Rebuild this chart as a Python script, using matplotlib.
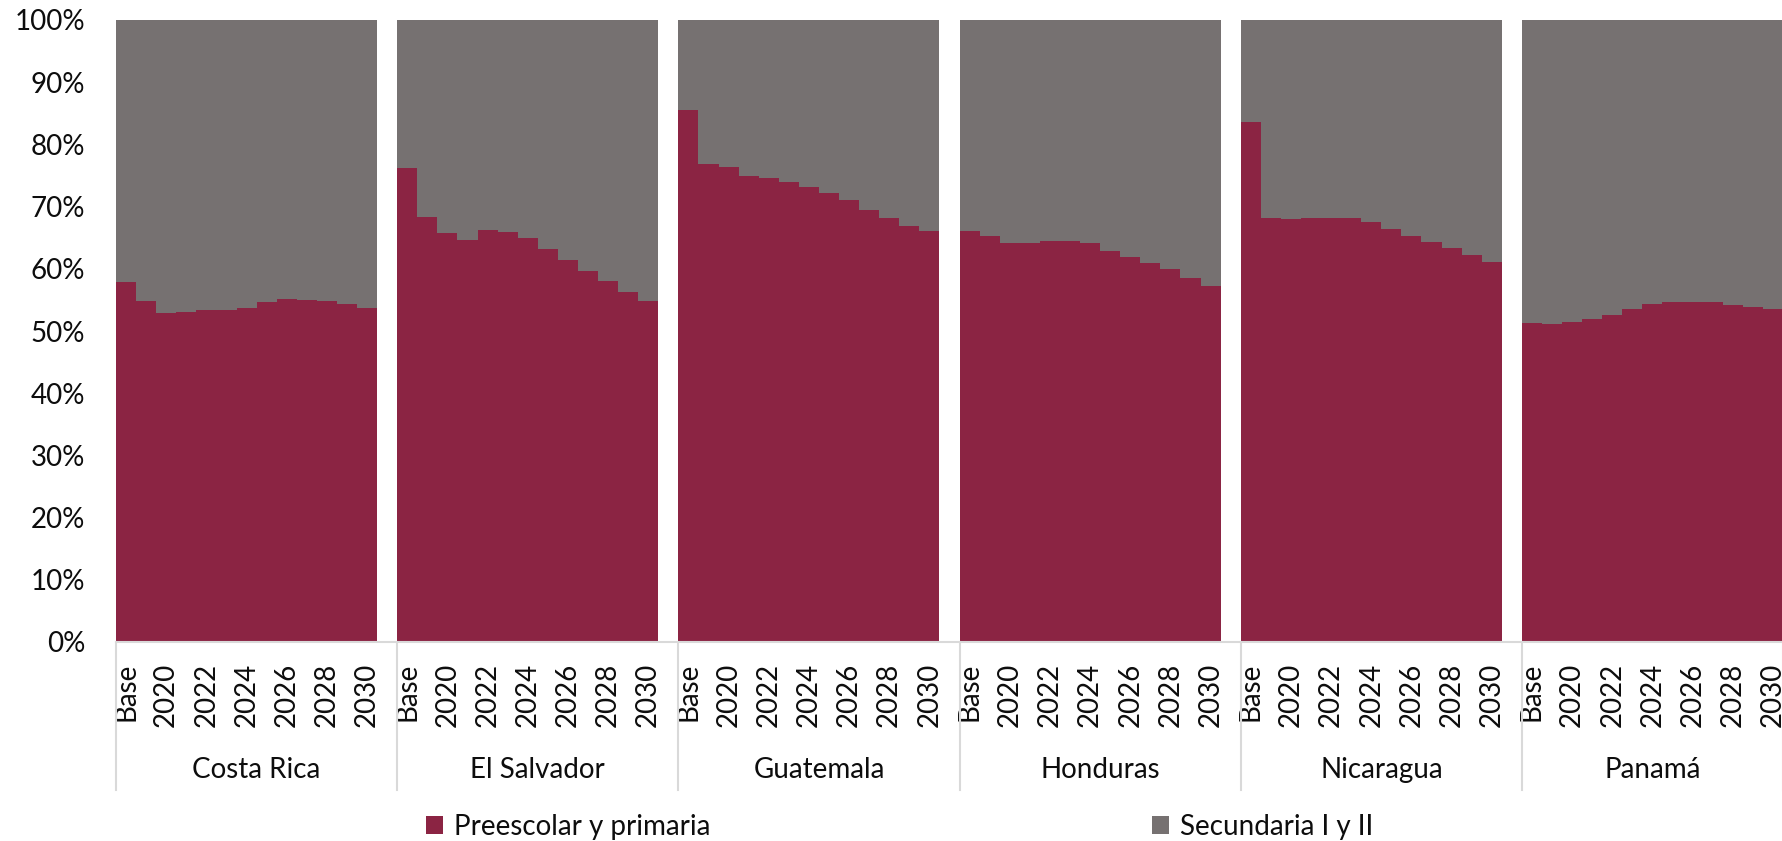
import matplotlib
matplotlib.use("Agg")
import matplotlib.pyplot as plt
from matplotlib.patches import Patch
import matplotlib.transforms as mtransforms

plt.rcParams['font.family'] = ['Lato', 'DejaVu Sans']

# ---- data ----
countries = ["Costa Rica", "El Salvador", "Guatemala", "Honduras", "Nicaragua", "Panamá"]
periods = ["Base", "2019", "2020", "2021", "2022", "2023", "2024", "2025",
           "2026", "2027", "2028", "2029", "2030"]
series_names = ["Preescolar y primaria", "Secundaria I y II"]

# share (%) of "Preescolar y primaria"; the remainder is "Secundaria I y II"
costa_rica  = [57.9, 54.9, 52.9, 53.1, 53.4, 53.4, 53.7, 54.7, 55.1, 55.0, 54.8, 54.4, 53.7]
el_salvador = [76.2, 68.3, 65.8, 64.7, 66.3, 65.9, 64.9, 63.2, 61.4, 59.7, 58.0, 56.3, 54.9]
guatemala   = [85.6, 76.8, 76.4, 75.0, 74.6, 73.9, 73.2, 72.2, 71.1, 69.5, 68.2, 66.9, 66.0]
honduras    = [66.0, 65.2, 64.1, 64.1, 64.4, 64.5, 64.2, 62.9, 61.9, 60.9, 59.9, 58.6, 57.3]
nicaragua   = [83.6, 68.1, 68.0, 68.1, 68.2, 68.2, 67.6, 66.4, 65.3, 64.3, 63.3, 62.2, 61.1]
panama      = [51.3, 51.1, 51.4, 51.9, 52.6, 53.6, 54.4, 54.7, 54.7, 54.6, 54.2, 53.9, 53.6]

primaria_by_country = [costa_rica, el_salvador, guatemala, honduras, nicaragua, panama]

RED = "#8B2443"
GRAY = "#767171"
LINE = "#D9D9D9"
TXT = "#0d0d0d"
FS = 20

W, H = 1783, 841
fig = plt.figure(figsize=(W / 100, H / 100), dpi=100)
ax = fig.add_axes([116 / W, 1 - 642 / H, (W - 116) / W, (642 - 20) / H])

n = len(periods)
step = n + 1  # one empty slot between groups
xs, reds, grays, tick_pos, tick_lab = [], [], [], [], []
for g, vals in enumerate(primaria_by_country):
    for i, v in enumerate(vals):
        x = g * step + i
        xs.append(x)
        reds.append(v)
        grays.append(100 - v)
        if i % 2 == 0:
            tick_pos.append(x)
            tick_lab.append(periods[i])

ax.bar(xs, reds, width=1.0, color=RED, linewidth=0, label=series_names[0])
ax.bar(xs, grays, bottom=reds, width=1.0, color=GRAY, linewidth=0, label=series_names[1])

last = (len(countries) - 1) * step + n - 1
ax.set_xlim(-0.5, last + 0.5)
ax.set_ylim(0, 100)

ax.set_yticks(range(0, 101, 10))
ax.set_yticklabels([f"{v}%" for v in range(0, 101, 10)])
ax.set_xticks(tick_pos)
ax.set_xticklabels(tick_lab, rotation=90)
ax.tick_params(axis='y', length=0, pad=22, labelsize=FS, labelcolor=TXT)
ax.tick_params(axis='x', length=0, pad=15, labelsize=FS, labelcolor=TXT)

for s in ["top", "right", "left"]:
    ax.spines[s].set_visible(False)
ax.spines["bottom"].set_color(LINE)
ax.spines["bottom"].set_linewidth(1.5)

# group separators and country labels
trans = mtransforms.blended_transform_factory(ax.transData, ax.transAxes)
y_low = -(790 - 642) / 622
for g in range(len(countries) + 1):
    xline = g * step - 0.5 if g < len(countries) else last + 0.5
    ax.plot([xline, xline], [0, y_low], transform=trans, color=LINE, lw=1.5,
            clip_on=False, zorder=5)
for g, c in enumerate(countries):
    start = g * step - 0.5
    end = min(g * step + step - 0.5, last + 0.5)
    ax.text((start + end) / 2, -(770 - 642) / 622, c, transform=trans,
            ha='center', va='center', fontsize=FS, color=TXT)

# legend
h1 = Patch(facecolor=RED, edgecolor='none')
h2 = Patch(facecolor=GRAY, edgecolor='none')
ly = 1 - 827 / H
for h, name, xl in [(h1, series_names[0], 426), (h2, series_names[1], 1152)]:
    fig.legend([h], [name], loc='center left', bbox_to_anchor=(xl / W, ly),
               frameon=False, fontsize=FS, handlelength=0.62, handleheight=0.62,
               handletextpad=0.4, borderpad=0, borderaxespad=0, labelcolor=TXT)

fig.savefig("out.png", dpi=100)
